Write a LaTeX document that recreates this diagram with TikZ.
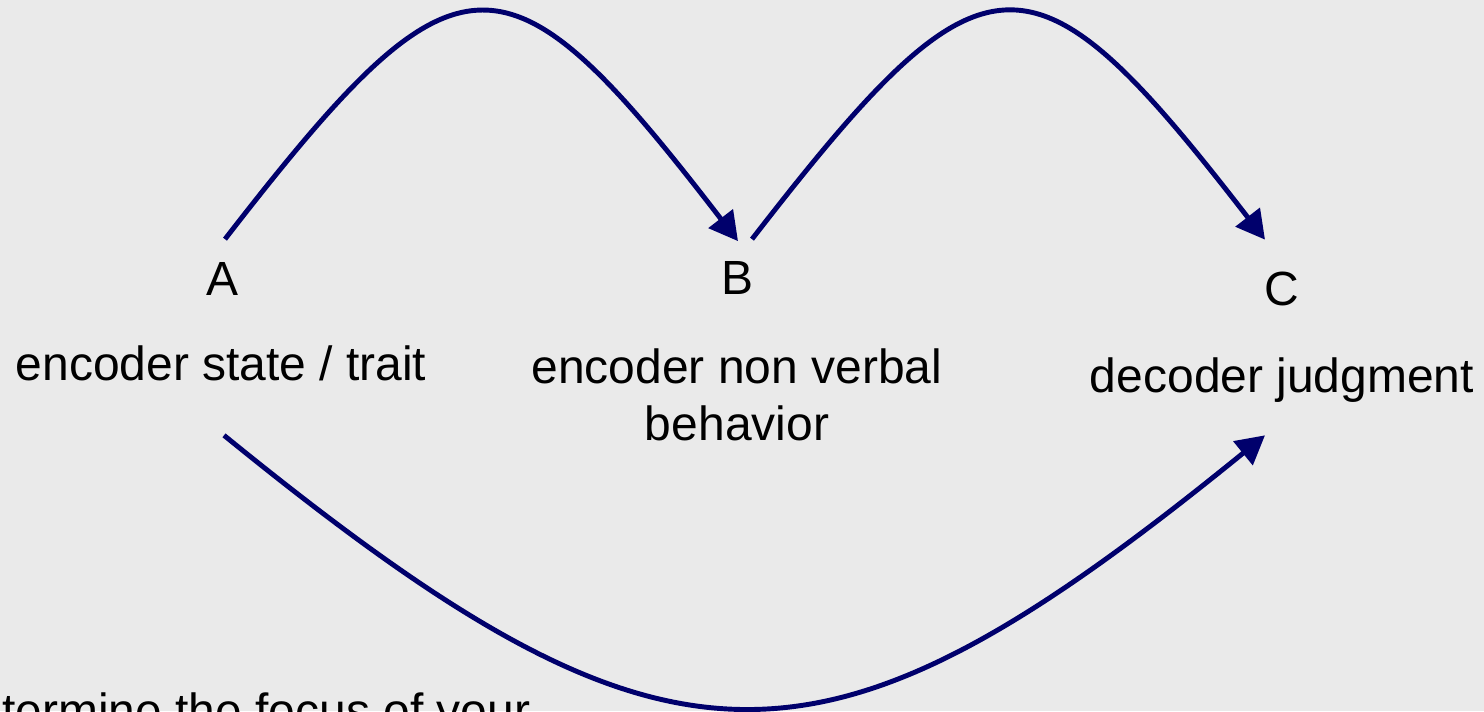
\documentclass[tikz,border=0pt]{standalone}
\usepackage{fontspec}
\setmainfont{Liberation Sans}
\usetikzlibrary{arrows.meta}
\definecolor{navy}{RGB}{0,0,108}
\definecolor{bggray}{RGB}{234,234,234}

\begin{document}
\begin{tikzpicture}[
  lbl/.style={inner sep=0pt, anchor=base, align=center,
    font=\fontsize{27.3}{32.4}\selectfont},
  link/.style={draw=navy, line width=2.8pt,
    -{Triangle[length=0.57cm,width=0.6cm]}}]
\useasboundingbox (0,0) rectangle (29.68,-14.22);
\fill[bggray] (0,0) rectangle (29.68,-14.22);
\clip (0,0) rectangle (29.68,-14.22);

\node[lbl] (a) at (4.44,-5.90) {A};
\node[lbl] (b) at (14.74,-5.88) {B};
\node[lbl] (c) at (25.64,-6.10) {C};
\node[lbl] (state) at (4.42,-7.60) {encoder state / trait};
\node[lbl] (behav) at (14.74,-8.80) {encoder non verbal\\behavior};
\node[lbl] (judg) at (25.64,-7.84) {decoder judgment};
\node[lbl, anchor=base west] (focus) at (0.04,-14.54) {termine the focus of your};

\draw[link] ([xshift=0.06cm,yshift=0.45cm]a.north)
  .. controls (9.18,1.26) and (10.08,1.26) .. ([xshift=0.02cm,yshift=0.39cm]b.north);
\draw[link] ([xshift=0.30cm,yshift=0.43cm]b.north)
  .. controls (19.72,1.26) and (20.62,1.26) .. ([xshift=-0.34cm,yshift=0.63cm]c.north);
\draw[link] ([xshift=0.06cm,yshift=-1.09cm]state.south)
  .. controls (13.40,-15.96) and (16.38,-15.96) .. ([xshift=-0.34cm,yshift=-0.66cm]judg.south);
\end{tikzpicture}
\end{document}
